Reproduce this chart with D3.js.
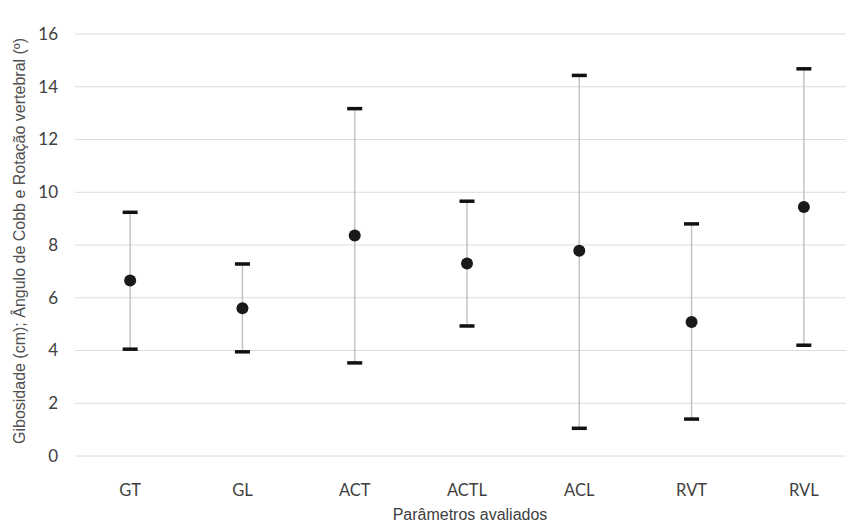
<!DOCTYPE html>
<html>
<head>
<meta charset="utf-8">
<script src="https://cdn.jsdelivr.net/npm/d3@7"></script>
<style>
  body { margin: 0; background: #fff; }
  svg { display: block; }
</style>
</head>
<body>
<svg id="chart" width="846" height="525"></svg>
<script>
const categories = ["GT", "GL", "ACT", "ACTL", "ACL", "RVT", "RVL"];
const meanValues = [6.65, 5.6, 8.36, 7.3, 7.78, 5.08, 9.44];
const upperValues = [9.24, 7.28, 13.17, 9.66, 14.43, 8.8, 14.68];
const lowerValues = [4.05, 3.95, 3.53, 4.93, 1.05, 1.4, 4.2];
const yTicks = [0, 2, 4, 6, 8, 10, 12, 14, 16];
const yTitle = "Gibosidade (cm); Ângulo de Cobb e Rotação vertebral (º)";
const xTitle = "Parâmetros avaliados";

const data = categories.map((c, i) => ({ cat: c, mean: meanValues[i], hi: upperValues[i], lo: lowerValues[i] }));

const svg = d3.select("#chart");
const W = 846;
const x = d3.scaleBand().domain(categories).range([74, 860]);
const y = d3.scaleLinear().domain([0, 16]).range([456, 34]);

// gridlines
svg.append("g").selectAll("line").data(yTicks).join("line")
  .attr("x1", 75).attr("x2", W)
  .attr("y1", d => y(d)).attr("y2", d => y(d))
  .attr("stroke", "#dcdcdc").attr("stroke-width", 1);

// y axis
const yAxis = svg.append("g").attr("transform", "translate(66,0)")
  .call(d3.axisLeft(y).tickValues(yTicks).tickSize(0).tickPadding(8));
yAxis.select(".domain").remove();
yAxis.selectAll("text").attr("font-family", "Lato, 'Open Sans', sans-serif")
  .attr("font-size", 17).attr("fill", "#404040");

// x axis
const xAxis = svg.append("g").attr("transform", "translate(0,478)")
  .call(d3.axisBottom(x).tickSize(0).tickPadding(6));
xAxis.select(".domain").remove();
xAxis.selectAll("text").attr("font-family", "Lato, 'Open Sans', sans-serif")
  .attr("font-size", 16.5).attr("fill", "#404040");

// whiskers
const g = svg.append("g");
g.selectAll("line.whisker").data(data).join("line").attr("class", "whisker")
  .attr("x1", d => x(d.cat) + x.bandwidth() / 2)
  .attr("x2", d => x(d.cat) + x.bandwidth() / 2)
  .attr("y1", d => y(d.hi)).attr("y2", d => y(d.lo))
  .attr("stroke", "#c4c4c4").attr("stroke-width", 1.5);

const capW = 15;
g.selectAll("rect.capHi").data(data).join("rect").attr("class", "capHi")
  .attr("x", d => x(d.cat) + x.bandwidth() / 2 - capW / 2)
  .attr("y", d => y(d.hi) - 1.75).attr("width", capW).attr("height", 3.5)
  .attr("fill", "#111");
g.selectAll("rect.capLo").data(data).join("rect").attr("class", "capLo")
  .attr("x", d => x(d.cat) + x.bandwidth() / 2 - capW / 2)
  .attr("y", d => y(d.lo) - 1.75).attr("width", capW).attr("height", 3.5)
  .attr("fill", "#111");

g.selectAll("circle").data(data).join("circle")
  .attr("cx", d => x(d.cat) + x.bandwidth() / 2)
  .attr("cy", d => y(d.mean)).attr("r", 6)
  .attr("fill", "#1a1a1a");

// titles
svg.append("text")
  .attr("transform", "translate(25,241) rotate(-90)")
  .attr("text-anchor", "middle")
  .attr("font-family", "'Liberation Sans', Arial, sans-serif")
  .attr("font-size", 16).attr("fill", "#505050")
  .text(yTitle);

svg.append("text")
  .attr("x", 470).attr("y", 520)
  .attr("text-anchor", "middle")
  .attr("font-family", "'Liberation Sans', Arial, sans-serif")
  .attr("font-size", 16).attr("fill", "#404040")
  .text(xTitle);
</script>
</body>
</html>
